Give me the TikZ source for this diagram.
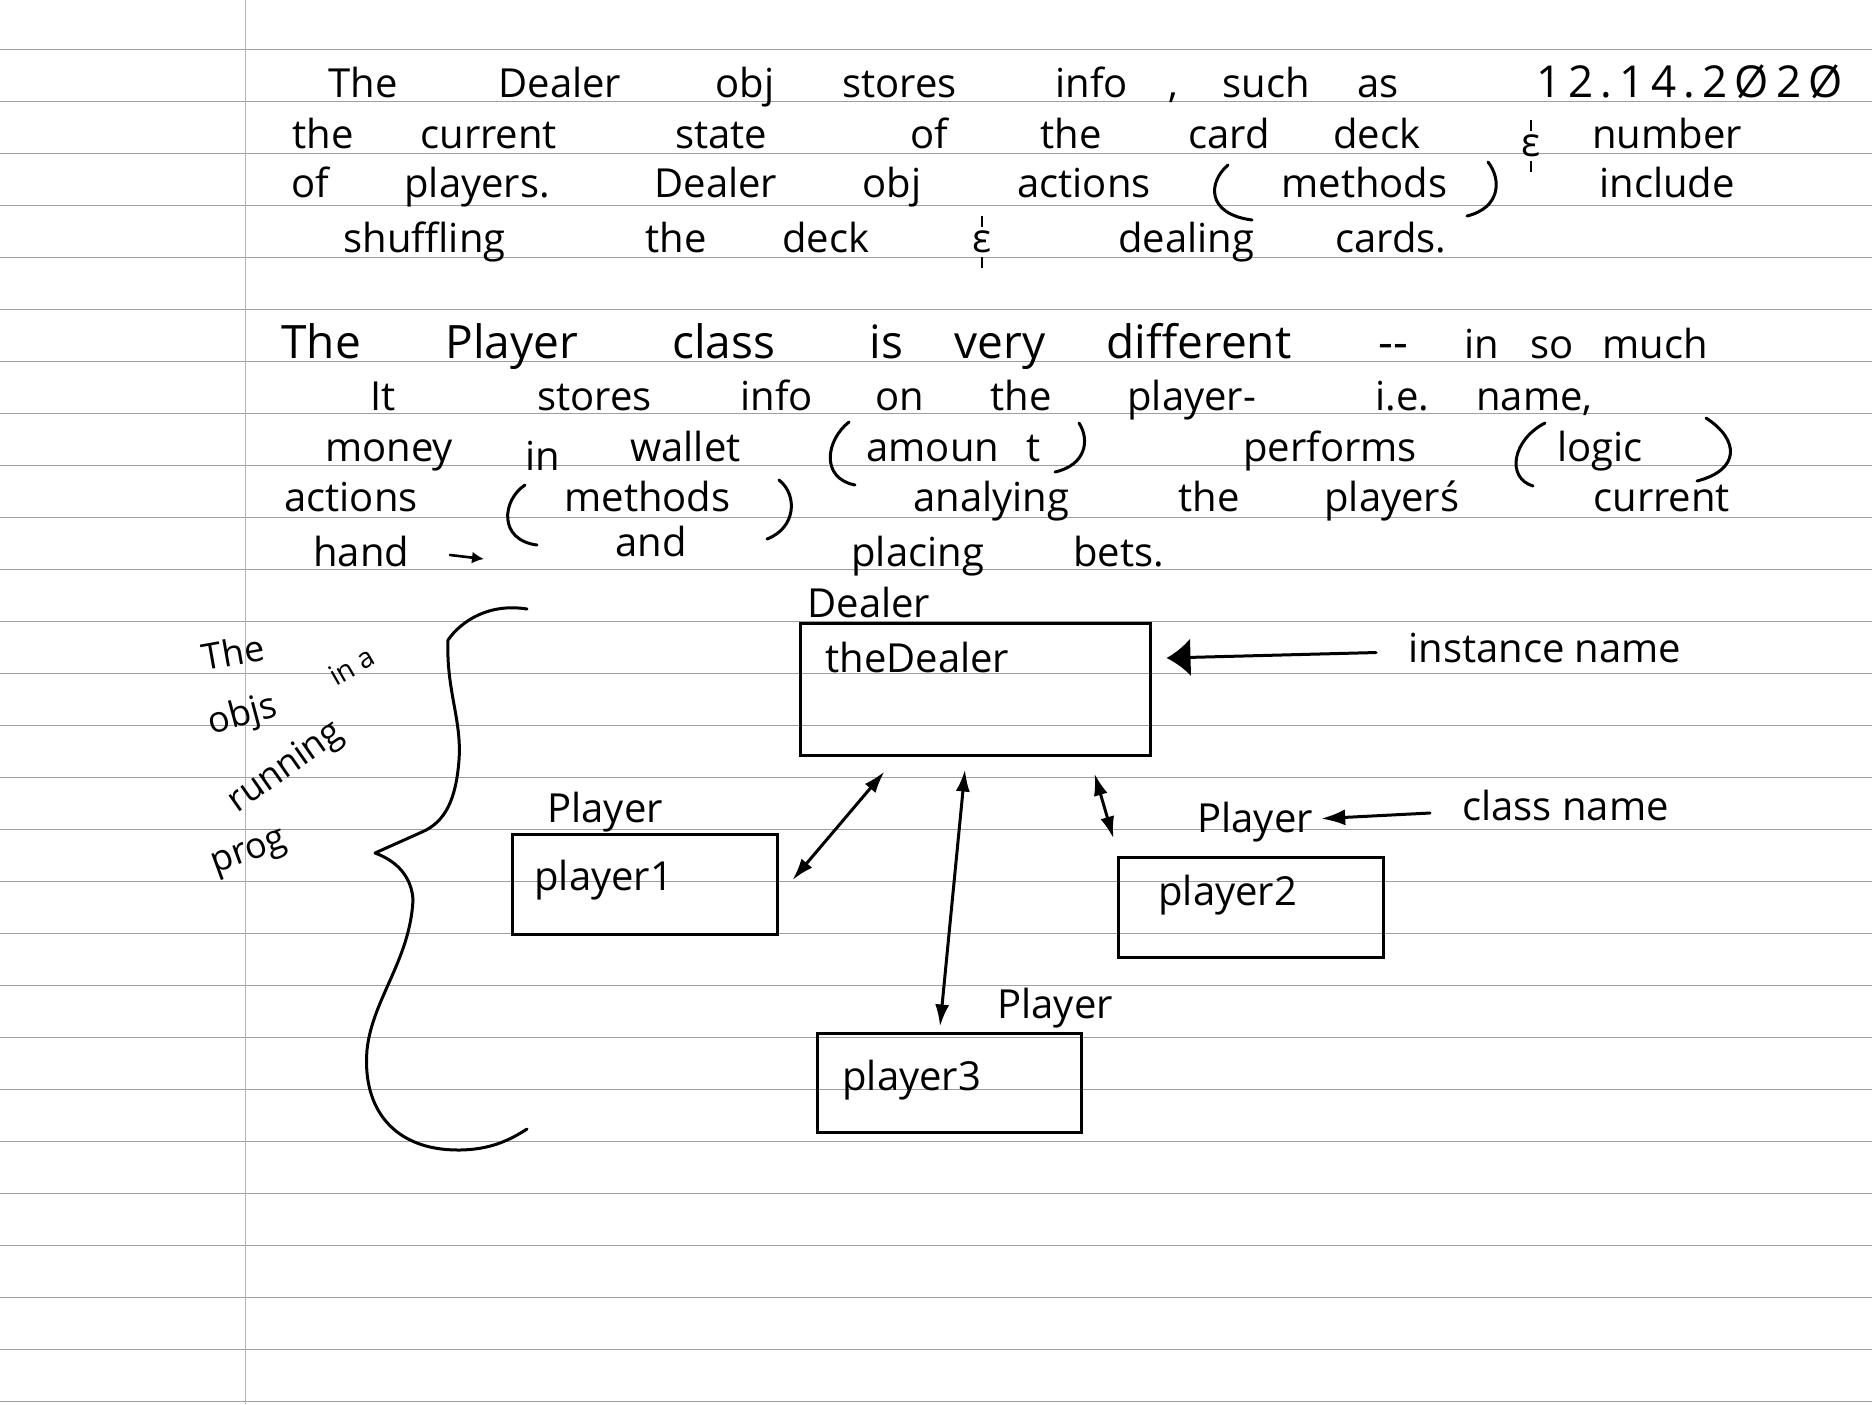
\documentclass[tikz,border=0pt]{standalone}
\usepackage{fontspec}
\setmainfont{Open Sans}
\usetikzlibrary{arrows.meta, calc}

\newcommand\handfont{\fontsize{20}{24}\selectfont}
\newcommand\bighand{\fontsize{23}{27}\selectfont}
\newcommand\notefont{\fontsize{18}{22}\selectfont}
\newcommand\smallhand{\fontsize{14}{17}\selectfont}
\newcommand\datefont{\fontsize{22}{26}\selectfont\addfontfeature{LetterSpace=16}}
% handwritten "and" sign: epsilon with a tick above and below
\newcommand\andsign{\ooalign{ε\cr\hidewidth\rule[0.62em]{0.07em}{0.28em}\hidewidth\cr\hidewidth\rule[-0.4em]{0.07em}{0.28em}\hidewidth\cr}}

\tikzset{
  rule/.style={gray!75, line width=0.7pt},
  margin/.style={gray!60, line width=0.5pt},
  pen/.style={black, line width=1.5pt, line cap=round, line join=round},
  hand/.style={anchor=base west, inner sep=0pt, font=\handfont},
  objbox/.style={draw, black, line width=1.5pt, rectangle, inner sep=0pt},
  link/.style={pen, {Latex[length=11pt,width=7pt]}-{Latex[length=11pt,width=7pt]}},
}

\begin{document}
\begin{tikzpicture}[x=0.5pt, y=-0.5pt]
\useasboundingbox (0,0) rectangle (1872,1404);
\fill[white] (0,0) rectangle (1872,1404);

% ruled paper
\foreach \k in {0,...,26}
  \draw[rule] (0,{49.3+52*\k}) -- (1872,{49.3+52*\k});
\draw[margin] (245,0) -- (245,1404);

% first note
\foreach \x/\w [count=\i] in {328/The, 498/Dealer, 715/obj, 842/stores, 1055/info, 1168/{,}, 1222/such, 1357/as}
  \node[hand] (a\i) at (\x,97) {\w};
\node[hand, font=\datefont] (date) at (1536,97) {12.14.2Ø2Ø};
\foreach \x/\w [count=\i] in {292/the, 420/current, 675/state, 910/of, 1040/the, 1188/card, 1333/deck, 1592/number}
  \node[hand] (b\i) at (\x,148) {\w};
\node[hand] (amp1) at (1521,156) {\andsign};
\foreach \x/\w [count=\i] in {291/of, 404/players., 654/Dealer, 862/obj, 1017/actions, 1281/methods, 1599/include}
  \node[hand] (c\i) at (\x,197) {\w};
\foreach \x/\w [count=\i] in {343/shuffling, 645/the, 782/deck, 972/\andsign, 1118/dealing, 1335/cards.}
  \node[hand] (d\i) at (\x,252) {\w};
\draw[pen] (1228,165) .. controls (1208,182) and (1206,214) .. (1252,220);
\draw[pen] (1488,162) .. controls (1502,180) and (1500,208) .. (1467,216);

% second note
\foreach \x/\w [count=\i] in {281/The, 445/Player, 672/class, 869/is, 954/very, 1106/different, 1378/{-{}-}}
  \node[hand, font=\bighand] (e\i) at (\x,358) {\w};
\foreach \x/\w [count=\i] in {1464/in, 1530/so, 1602/much}
  \node[hand] (f\i) at (\x,358) {\w};
\foreach \x/\w [count=\i] in {370/It, 537/stores, 740/info, 875/on, 990/the, 1127/player-, 1375/i.e., 1476/{name,}}
  \node[hand] (g\i) at (\x,410) {\w};
\foreach \x/\w [count=\i] in {325/money, 630/wallet, 866/amoun, 1026/t, 1243/performs, 1557/logic}
  \node[hand] (h\i) at (\x,461) {\w};
\node[hand] (h0) at (525,470) {in};
\foreach \x/\w [count=\i] in {284/actions, 564/methods, 913/analying, 1178/the, 1324/playerś, 1593/current}
  \node[hand] (k\i) at (\x,511) {\w};
\foreach \x/\w [count=\i] in {313/hand, 851/placing, 1073/bets.}
  \node[hand] (m\i) at (\x,566) {\w};
\node[hand] (and) at (615,556) {and};
\draw[pen, line width=1.3pt, -{Latex[length=6pt,width=6pt]}] (450,555) -- (484,559);
\draw[pen] (849,422) .. controls (826,440) and (820,478) .. (855,485);
\draw[pen] (1079,423) .. controls (1090,440) and (1086,465) .. (1055,472);
\draw[pen] (1545,423) .. controls (1512,440) and (1506,478) .. (1533,486);
\draw[pen] (1706,418) .. controls (1740,440) and (1740,470) .. (1697,481);
\draw[pen] (525,485) .. controls (502,500) and (498,540) .. (537,545);
\draw[pen] (779,480) .. controls (798,495) and (796,528) .. (767,539);

% margin remark and brace
\node[hand, anchor=center, rotate=10, font=\notefont] (rem1) at (233,652) {The};
\node[hand, anchor=center, rotate=30, font=\smallhand] (rem2) at (352,666) {in a};
\node[hand, anchor=center, rotate=15, font=\notefont] (rem3) at (243,716) {objs};
\node[hand, anchor=center, rotate=35, font=\notefont] (rem4) at (286,768) {running};
\node[hand, anchor=center, rotate=20, font=\notefont] (rem5) at (250,855) {prog};
\draw[pen] (527,609) .. controls (490,603) and (462,620) .. (448,640)
  .. controls (446,690) and (462,720) .. (459,760)
  .. controls (456,800) and (445,822) .. (422,832) -- (375,853)
  .. controls (400,862) and (412,880) .. (413,900)
  .. controls (410,960) and (372,1000) .. (367,1050)
  .. controls (362,1110) and (395,1150) .. (458,1150)
  .. controls (490,1150) and (510,1140) .. (527,1129);

% objects
\node[objbox, minimum width=175pt, minimum height=66pt] (dealer) at (975,689) {};
\node[objbox, minimum width=132.5pt, minimum height=50pt] (p1) at (644.5,884) {};
\node[objbox, minimum width=132.5pt, minimum height=50pt] (p2) at (1250.5,907) {};
\node[objbox, minimum width=132pt, minimum height=49.5pt] (p3) at (949,1082.5) {};

\node[hand] (dealerCls) at (807,617) {Dealer};
\node[hand] (dealerObj) at (825,672) {theDealer};
\node[hand] (p1Cls) at (547,822) {Player};
\node[hand] (p1Obj) at (534,890) {player1};
\node[hand] (p2Cls) at (1197,832) {Player};
\node[hand] (p2Obj) at (1158,905) {player2};
\node[hand] (p3Cls) at (997,1018) {Player};
\node[hand] (p3Obj) at (842,1090) {player3};

\draw[link] ($(dealer.south west)+(86,15)$) -- ($(p1.east)+(14,-4)$);
\draw[link] ($(dealer.south)+(-10,13)$) -- ($(p3.north)+(-9,-5)$);
\draw[link] ($(dealer.south east)+(-57,17)$) -- ($(p2.north west)+(-3,-17)$);

% annotations
\node[hand] (instLbl) at (1408,662) {instance name};
\node[hand] (clsLbl) at (1462,820) {class name};
\draw[pen, -{Latex[length=12pt,width=19pt]}] ($(instLbl.west)+(-32,5)$) -- ($(dealer.east)+(15,-31)$);
\draw[pen, -{Latex[length=12pt,width=8pt]}] ($(clsLbl.west)+(-32,8)$) -- ($(p2Cls.east)+(8,-3)$);
\end{tikzpicture}
\end{document}
